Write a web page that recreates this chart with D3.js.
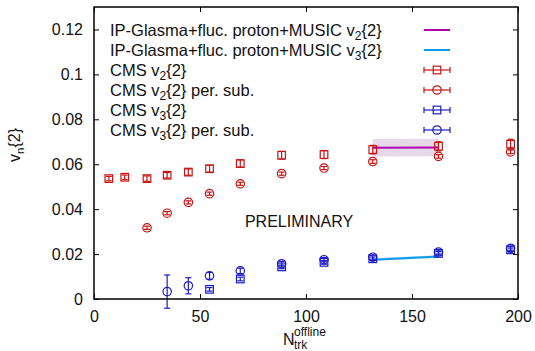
<!DOCTYPE html>
<html>
<head>
<meta charset="utf-8">
<script src="https://cdn.jsdelivr.net/npm/d3@7"></script>
<style>
  html, body { margin: 0; padding: 0; background: #fff; }
  svg text { font-family: "Liberation Sans", Arial, Helvetica, sans-serif; fill: #111; }
</style>
</head>
<body>
<svg id="chart" width="535" height="351"></svg>
<script>
// Multiplicity bins (N_trk^offline)
const nTrk = [7, 14.5, 25, 34.5, 44.5, 54.5, 69, 88.5, 108.5, 131.5, 162.5, 196.5];

// CMS v2{2}
const v2 = [0.0536, 0.0542, 0.0536, 0.0551, 0.0565, 0.0580, 0.0603, 0.0640, 0.0643, 0.0665, 0.0680, 0.0689];
const v2Err = [0.0010, 0.0010, 0.0012, 0.0012, 0.0014, 0.0015, 0.0016, 0.0017, 0.0018, 0.0019, 0.0020, 0.0022];

// CMS v2{2} peripheral subtracted
const nTrkSub = [25, 34.5, 44.5, 54.5, 69, 88.5, 108.5, 131.5, 162.5, 196.5];
const v2Sub = [0.0317, 0.0382, 0.0430, 0.0469, 0.0513, 0.0558, 0.0583, 0.0612, 0.0635, 0.0655];
const v2SubErr = [0.0007, 0.0007, 0.0007, 0.0007, 0.0007, 0.0007, 0.0007, 0.0008, 0.0008, 0.0008];

// CMS v3{2}
const nTrkV3 = [54.5, 69, 88.5, 108.5, 131.5, 162.5, 196.5];
const v3 = [0.0043, 0.0089, 0.0143, 0.0163, 0.0179, 0.0203, 0.0219];
const v3Err = [0.0008, 0.0008, 0.0008, 0.0008, 0.0008, 0.0008, 0.0008];

// CMS v3{2} peripheral subtracted
const nTrkV3Sub = [34.5, 44.5, 54.5, 69, 88.5, 108.5, 131.5, 162.5, 196.5];
const v3Sub = [0.0033, 0.0059, 0.0103, 0.0125, 0.0157, 0.0175, 0.0186, 0.0209, 0.0226];
const v3SubErr = [0.0074, 0.0036, 0.0015, 0.0012, 0.0010, 0.0010, 0.0009, 0.0009, 0.0009];

// IP-Glasma + fluctuating proton + MUSIC
const nTrkModel = [131.5, 162.5];
const v2Model = [0.0673, 0.0675];
const v2ModelErr = [0.0039, 0.0039];
const v3Model = [0.0175, 0.0189];
const v3ModelErr = [0.0006, 0.0006];

const xTicks = [0, 50, 100, 150, 200];
const yTicks = [0, 0.02, 0.04, 0.06, 0.08, 0.1, 0.12];

const red = "#c41414";
const blue = "#1c1cc4";
const magenta = "#b000b4";
const cyan = "#0a9be8";

const svg = d3.select("#chart");
const M = { left: 94, right: 518, top: 7, bottom: 299 };

const x = d3.scaleLinear().domain([0, 200]).range([M.left, M.right]);
const y = d3.scaleLinear().domain([0, 0.13]).range([M.bottom, M.top]);

// Axes: ticks pointing inward on all four sides
const axB = d3.axisBottom(x).tickValues(xTicks).tickSizeInner(-5).tickSizeOuter(0).tickPadding(12).tickFormat(d3.format("d"));
const axT = d3.axisTop(x).tickValues(xTicks).tickSizeInner(-5).tickSizeOuter(0).tickFormat("");
const axL = d3.axisLeft(y).tickValues(yTicks).tickSizeInner(-5).tickSizeOuter(0).tickPadding(11)
  .tickFormat(d => d === 0 ? "0" : d === 0.1 ? "0.1" : d3.format(".2f")(d));
const axR = d3.axisRight(y).tickValues(yTicks).tickSizeInner(-5).tickSizeOuter(0).tickFormat("");

function styleAxis(g) {
  g.select(".domain").remove();
  g.selectAll(".tick line").attr("stroke", "#000").attr("stroke-width", 1);
  g.selectAll("text").attr("font-size", 16).attr("fill", "#111")
    .style("font-family", "'Liberation Sans', Arial, sans-serif");
}
svg.append("g").attr("transform", `translate(0,${M.bottom})`).call(axB).call(styleAxis);
svg.append("g").attr("transform", `translate(0,${M.top})`).call(axT).call(styleAxis);
svg.append("g").attr("transform", `translate(${M.left},0)`).call(axL).call(styleAxis);
svg.append("g").attr("transform", `translate(${M.right},0)`).call(axR).call(styleAxis);

// Model bands and lines
function modelBand(vals, errs, fill) {
  const area = d3.area().x((d, i) => x(nTrkModel[i]))
    .y0((d, i) => y(vals[i] - errs[i])).y1((d, i) => y(vals[i] + errs[i]));
  svg.append("path").datum(vals).attr("d", area).attr("fill", fill);
}
function modelLine(vals, color) {
  const line = d3.line().x((d, i) => x(nTrkModel[i])).y(d => y(d));
  svg.append("path").datum(vals).attr("d", line).attr("fill", "none")
    .attr("stroke", color).attr("stroke-width", 2);
}
modelBand(v2Model, v2ModelErr, "#e6d8e6");
modelBand(v3Model, v3ModelErr, "#b8e0f8");
modelLine(v2Model, magenta);
modelLine(v3Model, cyan);

// Data series with vertical error bars
function series(xs, vs, es, color, shape) {
  const g = svg.append("g").attr("stroke", color).attr("fill", "none").attr("stroke-width", 1.2);
  xs.forEach((n, i) => {
    const cx = x(n), cy = y(vs[i]);
    const top = y(vs[i] + es[i]), bot = y(vs[i] - es[i]);
    g.append("line").attr("x1", cx).attr("x2", cx).attr("y1", top).attr("y2", bot);
    g.append("line").attr("x1", cx - 3).attr("x2", cx + 3).attr("y1", top).attr("y2", top);
    g.append("line").attr("x1", cx - 3).attr("x2", cx + 3).attr("y1", bot).attr("y2", bot);
    if (shape === "square") {
      g.append("rect").attr("x", cx - 3.8).attr("y", cy - 3.8).attr("width", 7.6).attr("height", 7.6);
    } else {
      g.append("circle").attr("cx", cx).attr("cy", cy).attr("r", 4.2);
    }
  });
}
series(nTrkSub, v2Sub, v2SubErr, red, "circle");
series(nTrk, v2, v2Err, red, "square");
series(nTrkV3, v3, v3Err, blue, "square");
series(nTrkV3Sub, v3Sub, v3SubErr, blue, "circle");

// Frame
svg.append("rect").attr("x", M.left).attr("y", M.top)
  .attr("width", M.right - M.left).attr("height", M.bottom - M.top)
  .attr("fill", "none").attr("stroke", "#000").attr("stroke-width", 1.5);

// Legend
const legend = [
  { label: ["IP-Glasma+fluc. proton+MUSIC v", "2", "{2}"], kind: "line", color: magenta },
  { label: ["IP-Glasma+fluc. proton+MUSIC v", "3", "{2}"], kind: "line", color: cyan },
  { label: ["CMS v", "2", "{2}"], kind: "square", color: red },
  { label: ["CMS v", "2", "{2} per. sub."], kind: "circle", color: red },
  { label: ["CMS v", "3", "{2}"], kind: "square", color: blue },
  { label: ["CMS v", "3", "{2} per. sub."], kind: "circle", color: blue }
];
legend.forEach((d, i) => {
  const base = 35.5 + i * 20;
  const t = svg.append("text").attr("x", 110).attr("y", base).attr("font-size", 16.5);
  t.append("tspan").text(d.label[0]);
  t.append("tspan").attr("dy", 4).attr("font-size", 12).text(d.label[1]);
  t.append("tspan").attr("dy", -4).text(d.label[2]);
  const cy = base - 5.5, x0 = 424, x1 = 450, cx = (x0 + x1) / 2;
  const g = svg.append("g").attr("stroke", d.color).attr("fill", "none").attr("stroke-width", 1.2);
  if (d.kind === "line") {
    g.append("line").attr("x1", x0).attr("x2", x1).attr("y1", cy).attr("y2", cy).attr("stroke-width", 2);
  } else {
    g.append("line").attr("x1", x0).attr("x2", x1).attr("y1", cy).attr("y2", cy);
    g.append("line").attr("x1", x0).attr("x2", x0).attr("y1", cy - 3).attr("y2", cy + 3);
    g.append("line").attr("x1", x1).attr("x2", x1).attr("y1", cy - 3).attr("y2", cy + 3);
    if (d.kind === "square") {
      g.append("rect").attr("x", cx - 3.8).attr("y", cy - 3.8).attr("width", 7.6).attr("height", 7.6);
    } else {
      g.append("circle").attr("cx", cx).attr("cy", cy).attr("r", 4.2);
    }
  }
});

// Preliminary tag
svg.append("text").attr("x", 299).attr("y", 227).attr("text-anchor", "middle")
  .attr("font-size", 16).text("PRELIMINARY");

// Axis titles
const yt = svg.append("text").attr("transform", "translate(20,145) rotate(-90)")
  .attr("text-anchor", "middle").attr("font-size", 16);
yt.append("tspan").text("v");
yt.append("tspan").attr("dy", 4).attr("font-size", 11.5).text("n");
yt.append("tspan").attr("dy", -4).text("{2}");

// N_trk^offline as one text with stacked super/subscript
const xt = svg.append("text").attr("x", 283).attr("y", 345).attr("font-size", 16);
xt.append("tspan").text("N");
xt.append("tspan").attr("x", 294).attr("dy", -9).attr("font-size", 12).text("offline");
xt.append("tspan").attr("x", 294).attr("dy", 12.5).attr("font-size", 12).text("trk");
</script>
</body>
</html>
